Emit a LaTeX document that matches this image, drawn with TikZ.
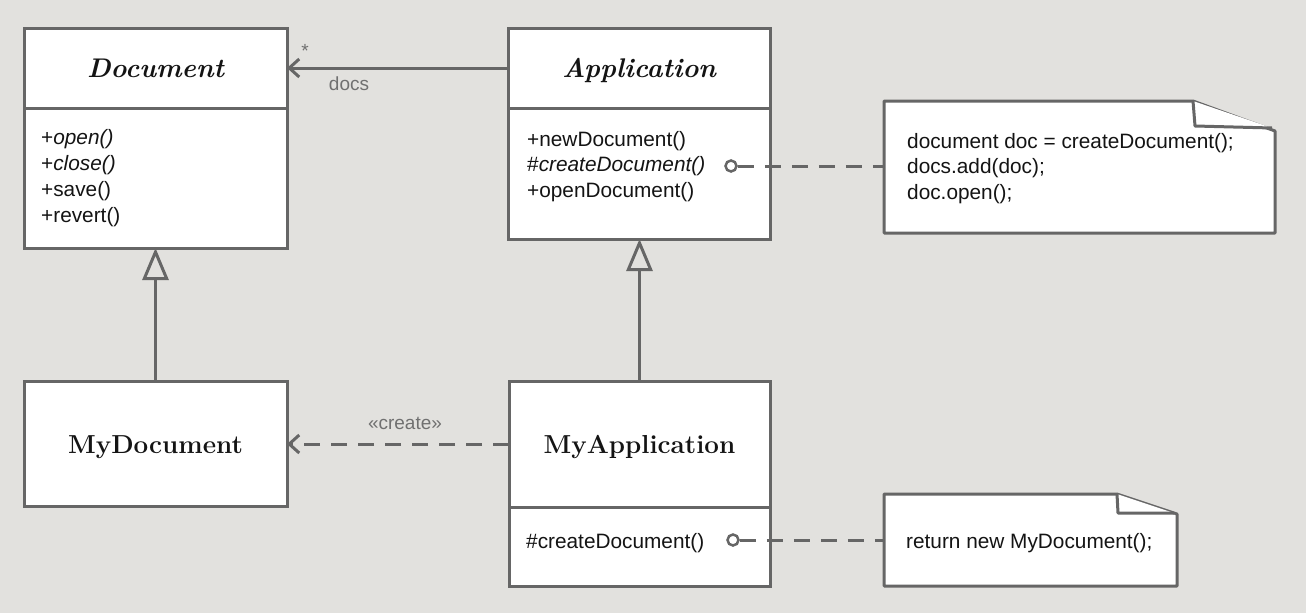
\documentclass[tikz,border=0pt]{standalone}
\usepackage{fontspec}
\usetikzlibrary{arrows.meta,calc}
\newfontfamily\bodyfont{Liberation Sans}
\definecolor{bgc}{RGB}{226,225,222}
\definecolor{linec}{RGB}{102,102,102}
\definecolor{labelc}{RGB}{112,112,112}
\definecolor{txtc}{RGB}{20,20,20}
\begin{document}
\begin{tikzpicture}[x=1pt,y=-1pt,
  box/.style={draw=linec, line width=3pt, fill=white, inner sep=0pt, outer sep=0pt, anchor=north west, text=txtc, text height=19pt, text depth=0pt},
  hdri/.style={box, font=\fontsize{27}{30}\selectfont\bfseries\itshape},
  hdrb/.style={box, font=\fontsize{26}{30}\selectfont\bfseries},
  body/.style={font=\bodyfont\fontsize{20.8}{25.7}\selectfont, text=txtc, anchor=base west, align=left, inner sep=0pt},
  lbl/.style={font=\bodyfont\fontsize{19}{22}\selectfont, text=labelc, inner sep=0pt},
  conn/.style={draw=linec, line width=3pt},
  dashconn/.style={conn, dash pattern=on 16pt off 11pt},
  assoc/.style={-{Straight Barb[length=10pt,width=18pt,line width=3pt]}},
  gen/.style={-{Triangle[open,fill=bgc,length=32pt,width=26pt,line width=3pt]}},
  notearea/.style={inner sep=0pt, outer sep=0pt, anchor=north west},
  noteline/.style={draw=linec, line width=3pt, fill=white, line join=round},
  lolli/.style={circle, draw=linec, line width=2.5pt, fill=white, minimum size=11pt, inner sep=0pt},
]
\fill[bgc] (0,0) rectangle (1306,613);
\useasboundingbox (0,0) rectangle (1306,613);

% Document
\node[hdri, minimum width=263pt, minimum height=80pt] (doch) at (24,28) {Document};
\node[box, minimum width=263pt, minimum height=140pt] (docb) at (24,108) {};
\node[body] (docops) at (41,222) {+\textit{open()}\\+\textit{close()}\\+save()\\+revert()};

% Application
\node[hdri, minimum width=262pt, minimum height=80pt] (apph) at (508,28) {Application};
\node[box, minimum width=262pt, minimum height=131pt] (appb) at (508,108) {};
\node[body] (appops) at (527,197.4) {+newDocument()\\\#\textit{createDocument()}\\+openDocument()};

% MyDocument
\node[hdrb, minimum width=263pt, minimum height=125pt] (mydoc) at (24,381) {MyDocument};

% MyApplication
\node[hdrb, minimum width=261pt, minimum height=126pt] (myapph) at (509,381) {MyApplication};
\node[box, minimum width=261pt, minimum height=79pt] (myappb) at (509,507) {};
\node[body] (myappops) at (526,548) {\#createDocument()};

% Notes
\node[notearea, minimum width=391pt, minimum height=132pt] (note1) at (884,101) {};
\draw[noteline] (note1.north west) -- ($(note1.north east)+(-82,0)$) -- ($(note1.north east)+(0,30)$) -- (note1.south east) -- (note1.south west) -- cycle;
\draw[noteline] ($(note1.north east)+(-82,0)$) -- ($(note1.north east)+(-80,25)$) -- ($(note1.north east)+(-3,27)$);
\node[body] (note1txt) at (907,199.4) {document doc = createDocument();\\docs.add(doc);\\doc.open();};

\node[notearea, minimum width=293pt, minimum height=92pt] (note2) at (884,494) {};
\draw[noteline] (note2.north west) -- ($(note2.north east)+(-60,0)$) -- ($(note2.north east)+(0,20)$) -- (note2.south east) -- (note2.south west) -- cycle;
\draw[noteline] ($(note2.north east)+(-60,0)$) -- ($(note2.north east)+(-59,19)$) -- ($(note2.north east)+(-3,19)$);
\node[body] (note2txt) at (906,548) {return new MyDocument();};

% connectors
\draw[conn, assoc] (apph.west) -- (doch.east);
\node[lbl] (docslbl) at (349,84) {docs};
\node[lbl] (mult) at (305,51) {*};

\draw[conn, gen] (mydoc.north) -- (docb.south);
\draw[conn, gen] (myapph.north) -- (myapph.north |- appb.south);

\draw[dashconn, assoc] (myapph.west) -- (myapph.west -| mydoc.east);
\node[lbl] (crlbl) at (405,423) {«create»};

\node[lolli] (l1) at (731,166) {};
\draw[dashconn] (l1.east) -- (l1.east -| note1.west);
\node[lolli] (l2) at (733,540) {};
\draw[dashconn] (l2.east) -- (l2.east -| note2.west);
\end{tikzpicture}
\end{document}
